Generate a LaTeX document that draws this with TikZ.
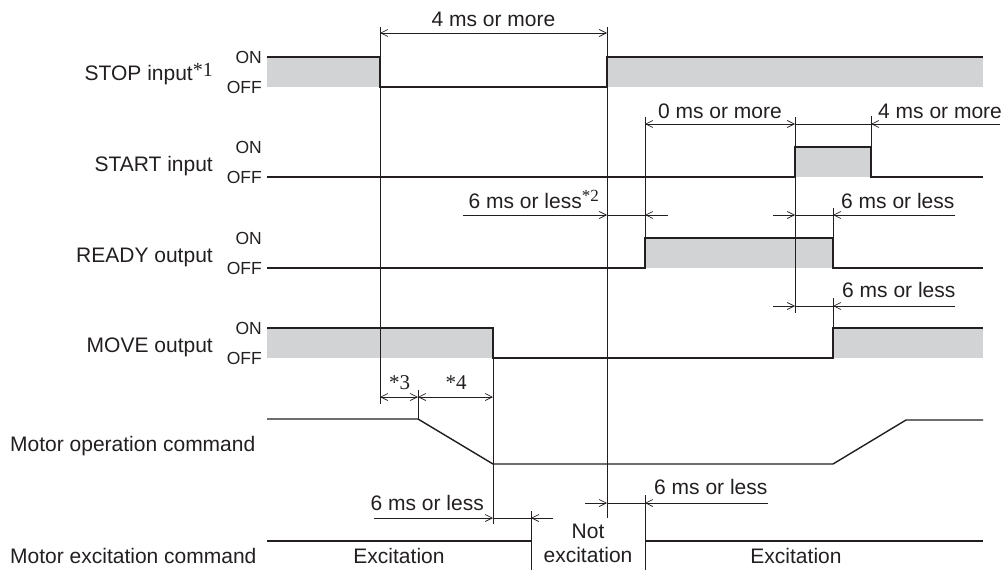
\documentclass[tikz,border=0pt]{standalone}
\usepackage{fontspec}
\setmainfont{Liberation Sans}
\newfontfamily\serfont{Liberation Serif}
\usetikzlibrary{arrows.meta}
\definecolor{ink}{RGB}{35,31,32}
\definecolor{fillgray}{RGB}{209,211,212}
\newcommand{\astnote}[1]{{\serfont *#1}}
\tikzset{
  sig/.style={draw=ink, line width=1.4pt, line join=miter},
  thinl/.style={draw=ink, line width=0.75pt},
  barb/.tip={Straight Barb[length=7pt,width=7pt]},
  dimarr/.style={thinl, -barb},
  dimboth/.style={thinl, barb-barb},
  lbl/.style={inner sep=0pt, font=\fontsize{21}{25}\selectfont, text=ink},
  onoff/.style={inner sep=0pt, font=\fontsize{17.5}{21}\selectfont, text=ink},
  gfill/.style={fill=fillgray, draw=none}
}
\begin{document}
\begin{tikzpicture}[x=1pt,y=-1pt]
\useasboundingbox (0,0) rectangle (1006,570);

% ---------- signal labels ----------
\node[lbl, anchor=base east] (lstop) at (213,80) {STOP input\raisebox{3.5pt}{\fontsize{20}{22}\selectfont\astnote{1}}};
\node[lbl, anchor=base east] (lstart) at (213,171) {START input};
\node[lbl, anchor=base east] (lready) at (213,262) {READY output};
\node[lbl, anchor=base east] (lmove) at (213,352) {MOVE output};
\node[lbl, anchor=base west] (lmotor) at (10,451) {Motor operation command};
\node[lbl, anchor=base west] (lexc) at (10,563) {Motor excitation command};

\foreach \nm/\on in {stop/57, start/147, ready/238, move/328}{
  \node[onoff, anchor=base east] (on\nm) at (262,\on+6) {ON};
  \node[onoff, anchor=base east] (off\nm) at (262,\on+36) {OFF};
}

% ---------- fills ----------
\fill[gfill] (267,57) rectangle (380,87);
\fill[gfill] (607,57) rectangle (983,87);
\fill[gfill] (795,147) rectangle (871,177);
\fill[gfill] (645,238) rectangle (833,268);
\fill[gfill] (267,328) rectangle (493,358);
\fill[gfill] (833,328) rectangle (983,358);

% ---------- thin reference lines ----------
\draw[thinl] (380,27) -- (380,404);
\draw[thinl] (607,27) -- (607,518);
\draw[thinl] (645,117) -- (645,238);
\draw[thinl] (795,117) -- (795,313);
\draw[thinl] (871,116) -- (871,147);
\draw[thinl] (833,208) -- (833,238);
\draw[thinl] (833,298) -- (833,328);
\draw[thinl] (418,390) -- (418,419);
\draw[thinl] (493,358) -- (493,524);
\draw[thinl] (531,511) -- (531,570);
\draw[thinl] (645,495) -- (645,570);

% ---------- signals ----------
\draw[sig] (267,57) -- (380,57) -- (380,87) -- (607,87) -- (607,57) -- (983,57);
\draw[sig] (267,177) -- (795,177) -- (795,147) -- (871,147) -- (871,177) -- (983,177);
\draw[sig] (267,268) -- (645,268) -- (645,238) -- (833,238) -- (833,268) -- (983,268);
\draw[sig] (267,328) -- (493,328) -- (493,358) -- (833,358) -- (833,328) -- (983,328);
\draw[sig] (267,419) -- (418,419) -- (493,464) -- (833,464) -- (906,420) -- (983,420);
\draw[sig] (267,541) -- (531,541);
\draw[sig] (645,541) -- (983,541);

% ---------- dimension lines ----------
\draw[dimboth] (380,33) -- (607,33);
\node[lbl, anchor=base] (d4a) at (493.5,26) {4 ms or more};

\draw[dimboth] (645,124) -- (795,124);
\draw[thinl] (795,124) -- (871,124);
\draw[dimarr] (1000,124) -- (871,124);
\node[lbl, anchor=base] (d0) at (720,118) {0 ms or more};
\node[lbl, anchor=base west] (d4b) at (878,118) {4 ms or more};

\draw[dimarr] (463,215) -- (607,215);
\draw[thinl] (607,215) -- (645,215);
\draw[dimarr] (668,215) -- (645,215);
\node[lbl, anchor=base east] (d6a) at (599,208) {6 ms or less\raisebox{7pt}{\fontsize{17}{19}\selectfont\astnote{2}}};

\draw[dimarr] (773,215) -- (795,215);
\draw[thinl] (795,215) -- (833,215);
\draw[dimarr] (955,215) -- (833,215);
\node[lbl, anchor=base west] (d6b) at (841,208) {6 ms or less};

\draw[dimarr] (773,306) -- (795,306);
\draw[thinl] (795,306) -- (833,306);
\draw[dimarr] (955,306) -- (833,306);
\node[lbl, anchor=base west] (d6c) at (842,297) {6 ms or less};

\draw[dimboth] (380,397) -- (418,397);
\draw[dimboth] (418,397) -- (493,397);
\node[lbl, anchor=base, font=\fontsize{21}{24}\selectfont] (n3) at (399.5,389) {\astnote{3}};
\node[lbl, anchor=base, font=\fontsize{21}{24}\selectfont] (n4) at (456,389) {\astnote{4}};

\draw[dimarr] (374,518) -- (493,518);
\draw[thinl] (493,518) -- (531,518);
\draw[dimarr] (553,518) -- (531,518);
\node[lbl, anchor=base east] (d6d) at (484,510) {6 ms or less};

\draw[dimarr] (585,503) -- (607,503);
\draw[thinl] (607,503) -- (645,503);
\draw[dimarr] (768,503) -- (645,503);
\node[lbl, anchor=base west] (d6e) at (654,494) {6 ms or less};

% ---------- excitation texts ----------
\node[lbl, anchor=base] (exl) at (399,563) {Excitation};
\node[lbl, anchor=base] (notx1) at (588,538) {Not};
\node[lbl, anchor=base] (notx2) at (588,562) {excitation};
\node[lbl, anchor=base] (exr) at (796,563) {Excitation};
\end{tikzpicture}
\end{document}
